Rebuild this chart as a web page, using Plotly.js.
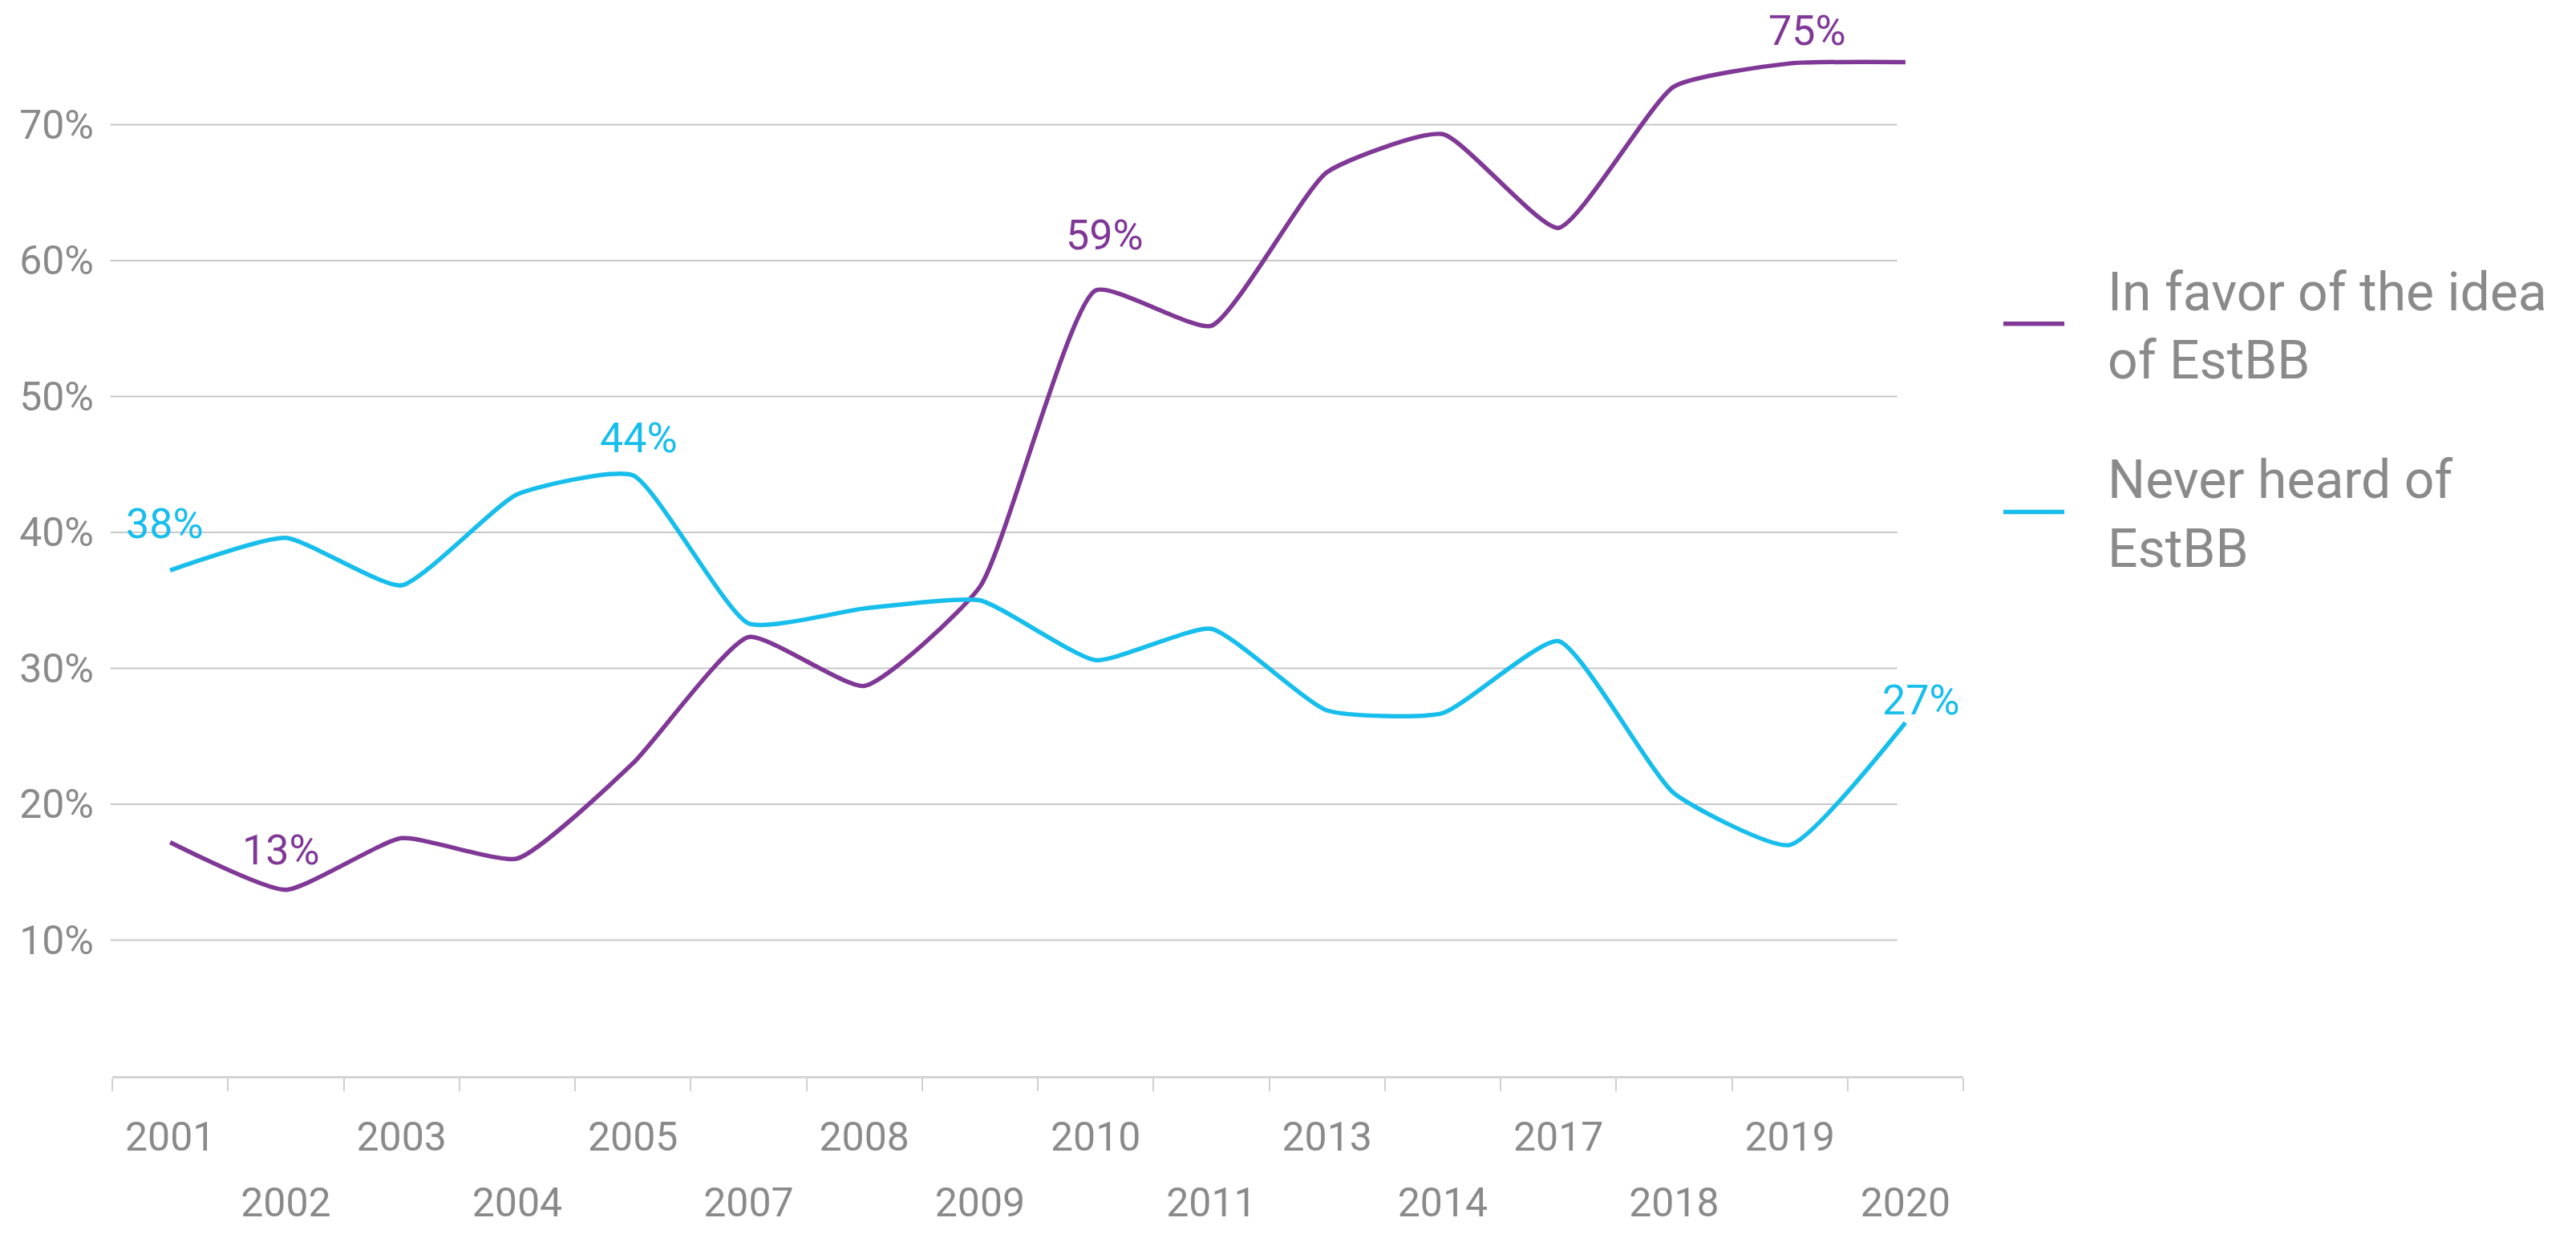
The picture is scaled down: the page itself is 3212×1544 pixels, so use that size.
<!DOCTYPE html>
<html>
<head>
<meta charset="utf-8">
<script src="https://cdn.plot.ly/plotly-3.0.1.min.js"></script>
<style>
  html, body { margin: 0; padding: 0; background: #ffffff; }
  #chart { width: 3212px; height: 1544px; }
</style>
</head>
<body>
<div id="chart"></div>
<script>
// ---- data ----
const years = ['2001','2002','2003','2004','2005','2007','2008','2009','2010','2011','2013','2014','2017','2018','2019','2020'];
const inFavor    = [17.2, 13.7, 17.5, 16.0, 23.0, 32.3, 28.7, 36.0, 57.8, 55.2, 66.5, 69.3, 62.4, 72.8, 74.5, 74.6];
const neverHeard = [37.2, 39.6, 36.1, 42.8, 44.2, 33.3, 34.4, 35.0, 30.6, 32.9, 26.9, 26.7, 32.0, 20.8, 17.0, 26.0];
const seriesNames = ['In favor of the idea', 'of EstBB', 'Never heard of', 'EstBB'];
const yTicks = [10, 20, 30, 40, 50, 60, 70];
const yTickLabels = yTicks.map(v => v + '%');
const upperRowLabels = years.map((y, i) => (i % 2 === 0 ? y : ''));
const lowerRowLabels = years.map((y, i) => (i % 2 === 1 ? y : ''));
const favorCallouts = [['2002', '13%'], ['2010', '59%'], ['2019', '75%']];
const neverCallouts = [['2001', '38%'], ['2005', '44%'], ['2020', '27%']];

// ---- styles ----
const PURPLE = '#803896';
const CYAN = '#17BEEC';
const GREY_TEXT = '#8a8a8a';
const FONT = 'Roboto, "Open Sans", sans-serif';
const LEGEND_PAD = '\u00A0\u00A0\u00A0';
const calloutOffsets = {
  '2002': [-6, 49], '2010': [11, 69], '2019': [22, 41],
  '2001': [-7, 58], '2005': [7, 46], '2020': [20, 28]
};

function valueAt(series, year) { return series[years.indexOf(year)]; }

function callouts(list, series, color, xref) {
  return list.map(([yr, txt]) => ({
    x: years.indexOf(yr), y: valueAt(series, yr), xref: xref, yref: 'y',
    text: txt, showarrow: false,
    xshift: calloutOffsets[yr][0], yshift: calloutOffsets[yr][1],
    font: { family: FONT, size: 52, color: color }
  }));
}

function legendLabel(a, b) { return LEGEND_PAD + a + '<br>' + LEGEND_PAD + b; }

const traces = [
  {
    type: 'scatter', mode: 'lines', x: years, y: inFavor, xaxis: 'x', yaxis: 'y',
    name: legendLabel(seriesNames[0], seriesNames[1]), legendgroup: 'a',
    line: { color: PURPLE, width: 5.5, shape: 'spline', smoothing: 0.5 },
    hoverinfo: 'skip'
  },
  {
    type: 'scatter', mode: 'lines', x: years, y: neverHeard, xaxis: 'x2', yaxis: 'y',
    name: legendLabel(seriesNames[2], seriesNames[3]), legendgroup: 'b',
    line: { color: CYAN, width: 5.5, shape: 'spline', smoothing: 0.5 },
    hoverinfo: 'skip'
  }
];

const gridShapes = yTicks.map(v => ({
  type: 'line', xref: 'paper', yref: 'y', x0: -0.001, x1: 0.9643, y0: v, y1: v,
  line: { color: '#c8c8c8', width: 2 }, layer: 'below'
}));

const xCommon = {
  type: 'category', categoryorder: 'array', categoryarray: years,
  range: [-0.5, 15.5], tickmode: 'array', tickvals: years,
  tickson: 'boundaries', ticks: 'outside', ticklen: 16, tickwidth: 2,
  showgrid: false, zeroline: false, fixedrange: true,
  tickfont: { family: FONT, size: 50, color: GREY_TEXT }
};

const layout = {
  width: 3212, height: 1544,
  paper_bgcolor: '#ffffff', plot_bgcolor: '#ffffff',
  margin: { l: 140, r: 764, t: 2, b: 202 },
  font: { family: FONT, color: GREY_TEXT },
  showlegend: true,
  legend: {
    x: 1.0195, xanchor: 'left', y: 0.769, yanchor: 'top',
    traceorder: 'grouped', tracegroupgap: 60, itemwidth: 76,
    font: { family: FONT, size: 66, color: GREY_TEXT },
    bgcolor: 'rgba(0,0,0,0)'
  },
  xaxis: Object.assign({}, xCommon, {
    ticktext: upperRowLabels, tickcolor: '#d0d0d0',
    showline: true, linecolor: '#d4d4d4', linewidth: 3,
    ticklabelstandoff: 30, anchor: 'y', side: 'bottom'
  }),
  xaxis2: Object.assign({}, xCommon, {
    ticktext: lowerRowLabels, tickcolor: 'rgba(0,0,0,0)',
    showline: false, overlaying: 'x', anchor: 'y', side: 'bottom',
    ticklabelstandoff: 124
  }),
  yaxis: {
    range: [0, 79.05], tickmode: 'array', tickvals: yTicks, ticktext: yTickLabels,
    showgrid: false, zeroline: false, showline: false, ticks: '',
    ticklabelstandoff: 22, fixedrange: true,
    tickfont: { family: FONT, size: 50, color: GREY_TEXT }
  },
  shapes: gridShapes,
  annotations: [].concat(
    callouts(favorCallouts, inFavor, PURPLE, 'x'),
    callouts(neverCallouts, neverHeard, CYAN, 'x2')
  )
};

Plotly.newPlot('chart', traces, layout, { displayModeBar: false, staticPlot: true });
</script>
</body>
</html>
